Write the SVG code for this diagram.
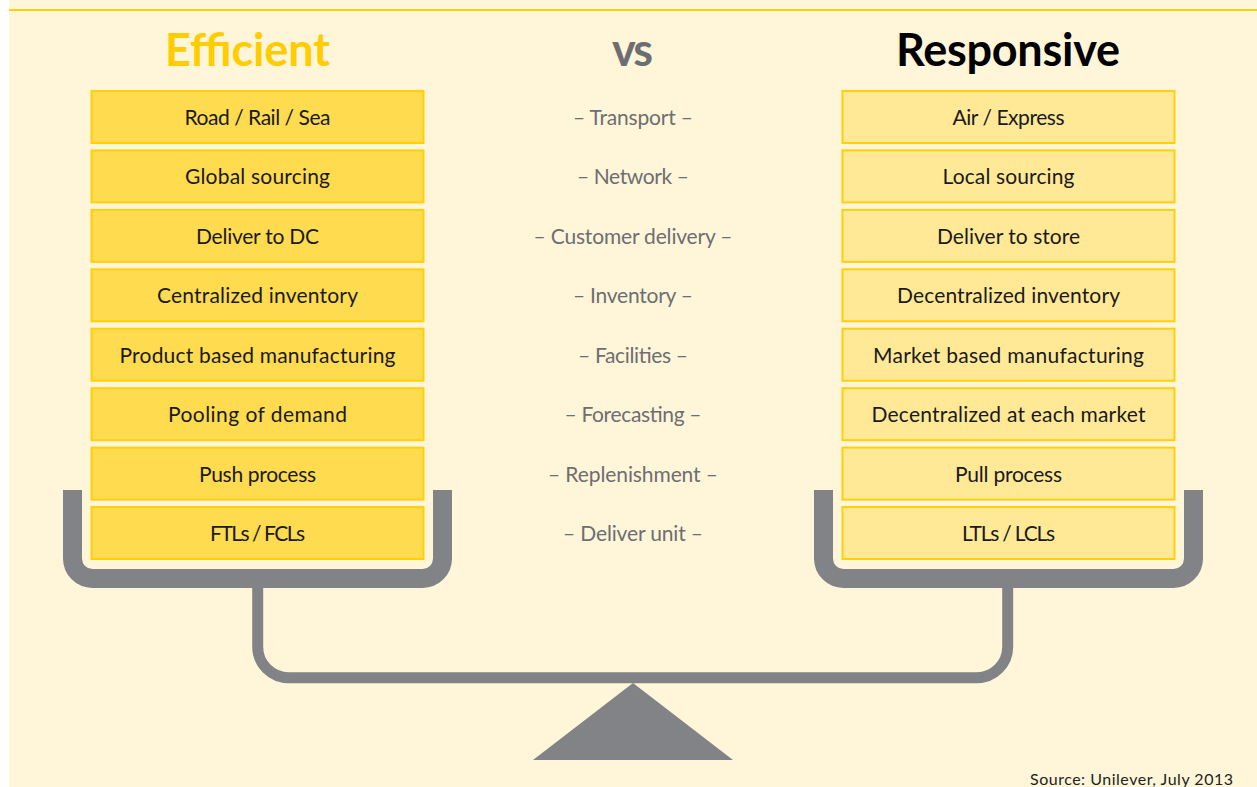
<svg xmlns="http://www.w3.org/2000/svg" width="1257" height="787" viewBox="0 0 1257 787">
  <style>
    .head { font-family: Lato, "Open Sans", "Liberation Sans", sans-serif; font-weight: 700; font-size: 45px; text-anchor: middle; }
    .box-eff { fill: #FFDB4F; stroke: #FFCF0A; stroke-width: 2; }
    .box-res { fill: #FFE996; stroke: #FFCF0A; stroke-width: 2; }
    .lbl { font-family: Lato, "Open Sans", "Liberation Sans", sans-serif; font-size: 21px; fill: #1a1a1a; text-anchor: middle; }
    .mid { font-family: Lato, "Open Sans", "Liberation Sans", sans-serif; font-size: 21px; fill: #6D6E71; text-anchor: middle; }
    .beam { fill: none; stroke: #828387; stroke-linejoin: round; }
    .src { font-family: Lato, "Open Sans", "Liberation Sans", sans-serif; font-size: 16px; fill: #231F20; text-anchor: end; }
  </style>

  <!-- page -->
  <rect x="0" y="0" width="1257" height="787" fill="#FFFFFF"/>
  <rect x="9" y="0" width="1248" height="787" fill="#FFF6DA"/>
  <line x1="9" y1="10" x2="1257" y2="10" stroke="#FFD100" stroke-width="2"/>

  <!-- headings -->
  <g id="headings">
    <text class="head" x="247.5" y="66" fill="#FFCC00" textLength="165">Efficient</text>
    <text class="head" x="632.5" y="66" fill="#6D6E71" textLength="41">vs</text>
    <text class="head" x="1008" y="66" fill="#000000" textLength="224">Responsive</text>
  </g>

  <!-- balance scale -->
  <g id="scale">
    <path class="beam" stroke-width="19" d="M72.5,490 V558.5 A20,20 0 0 0 92.5,578.5 H422.5 A20,20 0 0 0 442.5,558.5 V490"/>
    <path class="beam" stroke-width="19" d="M823.5,490 V558.5 A20,20 0 0 0 843.5,578.5 H1173.5 A20,20 0 0 0 1193.5,558.5 V490"/>
    <path class="beam" stroke-width="11" d="M257.7,585 V646.7 A31,31 0 0 0 288.7,677.7 H976.7 A31,31 0 0 0 1007.7,646.7 V585"/>
    <polygon points="633,683 733,760 533,760" fill="#828387"/>
  </g>

  <!-- efficient column -->
  <g id="eff-1"><rect class="box-eff" x="91.5" y="91" width="332" height="52"/><text class="lbl" x="257.5" y="125" textLength="146">Road / Rail / Sea</text></g>
  <g id="eff-2"><rect class="box-eff" x="91.5" y="150.4" width="332" height="52"/><text class="lbl" x="257.5" y="184.4" textLength="145">Global sourcing</text></g>
  <g id="eff-3"><rect class="box-eff" x="91.5" y="209.9" width="332" height="52"/><text class="lbl" x="257.5" y="243.9" textLength="123">Deliver to DC</text></g>
  <g id="eff-4"><rect class="box-eff" x="91.5" y="269.3" width="332" height="52"/><text class="lbl" x="257.5" y="303.3" textLength="201">Centralized inventory</text></g>
  <g id="eff-5"><rect class="box-eff" x="91.5" y="328.7" width="332" height="52"/><text class="lbl" x="257.5" y="362.7" textLength="276">Product based manufacturing</text></g>
  <g id="eff-6"><rect class="box-eff" x="91.5" y="388.2" width="332" height="52"/><text class="lbl" x="257.5" y="422.2" textLength="179">Pooling of demand</text></g>
  <g id="eff-7"><rect class="box-eff" x="91.5" y="447.6" width="332" height="52"/><text class="lbl" x="257.5" y="481.6" textLength="117">Push process</text></g>
  <g id="eff-8"><rect class="box-eff" x="91.5" y="507" width="332" height="52"/><text class="lbl" x="257.5" y="541" textLength="95">FTLs / FCLs</text></g>

  <!-- dimension labels -->
  <g id="dimensions">
    <text class="mid" x="633" y="125" textLength="120">– Transport –</text>
    <text class="mid" x="633" y="184.4" textLength="112">– Network –</text>
    <text class="mid" x="633" y="243.9" textLength="199">– Customer delivery –</text>
    <text class="mid" x="633" y="303.3" textLength="120">– Inventory –</text>
    <text class="mid" x="633" y="362.7" textLength="110">– Facilities –</text>
    <text class="mid" x="633" y="422.2" textLength="137">– Forecasting –</text>
    <text class="mid" x="633" y="481.6" textLength="170">– Replenishment –</text>
    <text class="mid" x="633" y="541" textLength="140">– Deliver unit –</text>
  </g>

  <!-- responsive column -->
  <g id="res-1"><rect class="box-res" x="842.5" y="91" width="332" height="52"/><text class="lbl" x="1008.5" y="125" textLength="112">Air / Express</text></g>
  <g id="res-2"><rect class="box-res" x="842.5" y="150.4" width="332" height="52"/><text class="lbl" x="1008.5" y="184.4" textLength="132">Local sourcing</text></g>
  <g id="res-3"><rect class="box-res" x="842.5" y="209.9" width="332" height="52"/><text class="lbl" x="1008.5" y="243.9" textLength="143">Deliver to store</text></g>
  <g id="res-4"><rect class="box-res" x="842.5" y="269.3" width="332" height="52"/><text class="lbl" x="1008.5" y="303.3" textLength="223">Decentralized inventory</text></g>
  <g id="res-5"><rect class="box-res" x="842.5" y="328.7" width="332" height="52"/><text class="lbl" x="1008.5" y="362.7" textLength="271">Market based manufacturing</text></g>
  <g id="res-6"><rect class="box-res" x="842.5" y="388.2" width="332" height="52"/><text class="lbl" x="1008.5" y="422.2" textLength="274">Decentralized at each market</text></g>
  <g id="res-7"><rect class="box-res" x="842.5" y="447.6" width="332" height="52"/><text class="lbl" x="1008.5" y="481.6" textLength="107">Pull process</text></g>
  <g id="res-8"><rect class="box-res" x="842.5" y="507" width="332" height="52"/><text class="lbl" x="1008.5" y="541" textLength="93">LTLs / LCLs</text></g>

  <text class="src" x="1233" y="785" textLength="203">Source: Unilever, July 2013</text>
</svg>
